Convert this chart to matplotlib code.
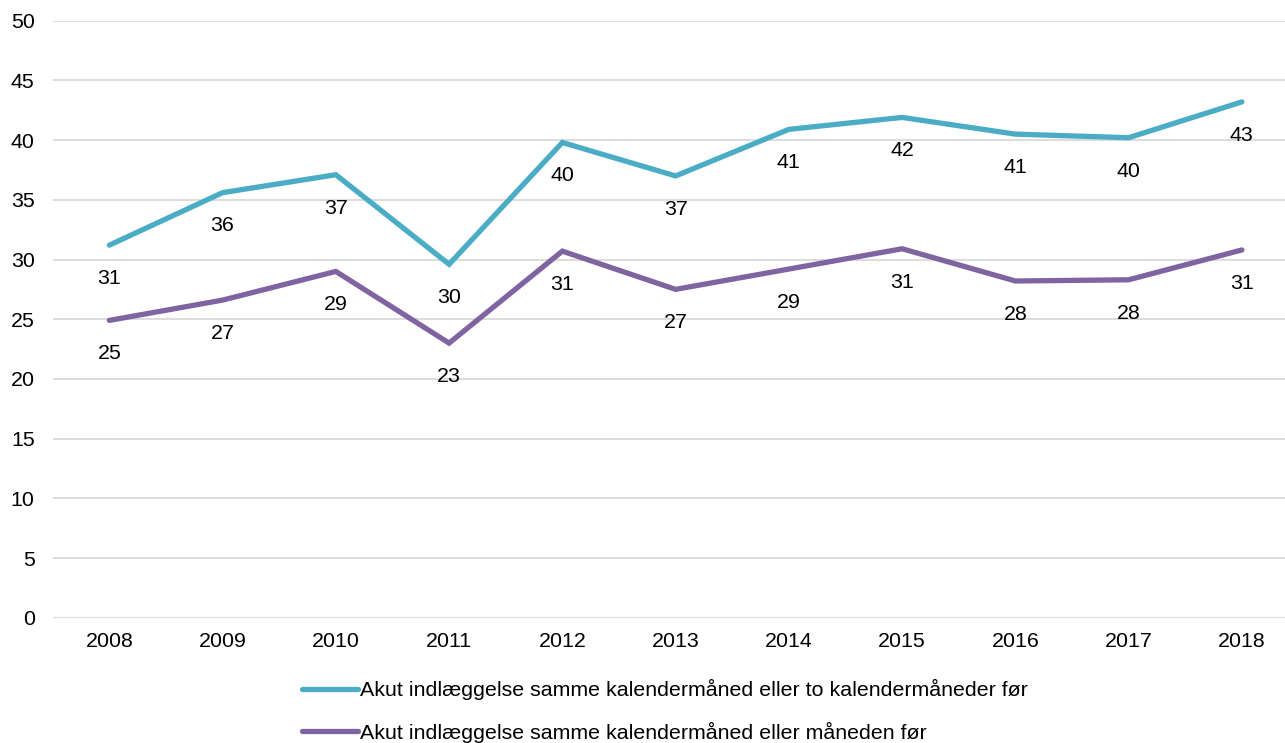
import matplotlib
matplotlib.use("Agg")
import matplotlib.pyplot as plt

years = ["2008", "2009", "2010", "2011", "2012", "2013", "2014", "2015", "2016", "2017", "2018"]
blue_vals = [31.2, 35.6, 37.1, 29.6, 39.8, 37.0, 40.9, 41.9, 40.5, 40.2, 43.2]
purple_vals = [24.9, 26.6, 29.0, 23.0, 30.7, 27.5, 29.2, 30.9, 28.2, 28.3, 30.8]
blue_labels = ["31", "36", "37", "30", "40", "37", "41", "42", "41", "40", "43"]
purple_labels = ["25", "27", "29", "23", "31", "27", "29", "31", "28", "28", "31"]
series_names = [
    "Akut indlæggelse samme kalendermåned eller to kalendermåneder før",
    "Akut indlæggelse samme kalendermåned eller måneden før",
]
yticks = [0, 5, 10, 15, 20, 25, 30, 35, 40, 45, 50]

plt.rcParams['font.family'] = ['Liberation Sans', 'DejaVu Sans']
BLUE = "#4BACC6"
PURPLE = "#8064A2"
FS = 15.4

fig = plt.figure(figsize=(12.85, 7.43), dpi=100)
W, H = 1285, 743
left_px, right_px = 52.7, 1298.5
top_px, bot_px = 20.7, 617.7
ax = fig.add_axes([left_px / W, 1 - bot_px / H, (right_px - left_px) / W, (bot_px - top_px) / H])

x = list(range(len(years)))
l1, = ax.plot(x, blue_vals, color=BLUE, lw=3.8, solid_capstyle='round', solid_joinstyle='miter', label=series_names[0])
l2, = ax.plot(x, purple_vals, color=PURPLE, lw=3.8, solid_capstyle='round', solid_joinstyle='miter', label=series_names[1])

for xi, v, t in zip(x, blue_vals, blue_labels):
    ax.annotate(t, (xi, v), xytext=(0, -24), textcoords='offset points', ha='center', va='center', fontsize=FS, color='#000000')
for xi, v, t in zip(x, purple_vals, purple_labels):
    ax.annotate(t, (xi, v), xytext=(0, -24), textcoords='offset points', ha='center', va='center', fontsize=FS, color='#000000')

ax.set_xlim(-0.5, len(years) - 0.5)
ax.set_ylim(0, 50)
ax.set_yticks(yticks)
ax.set_yticklabels([str(t) for t in yticks], fontsize=FS)
ax.set_xticks(x)
ax.set_xticklabels(years, fontsize=FS)
ax.tick_params(axis='both', length=0, colors='#000000')
ax.tick_params(axis='y', pad=13)
ax.tick_params(axis='x', pad=10)
ax.grid(axis='y', color='#D9D9D9', lw=1.3)
ax.set_axisbelow(True)
for s in ax.spines.values():
    s.set_visible(False)

leg = fig.legend(handles=[l1, l2], loc='upper left', bbox_to_anchor=(302 / W, 1 - 679 / H),
                 frameon=False, fontsize=FS, handlelength=2.6, handletextpad=0.12,
                 labelspacing=1.0, borderpad=0, borderaxespad=0)

fig.savefig("out.png", dpi=100)
